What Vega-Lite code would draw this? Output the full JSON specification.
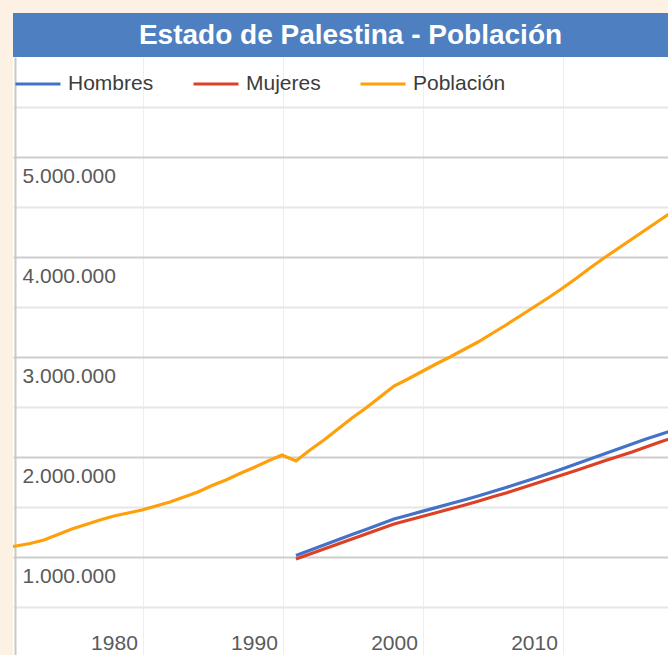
{
  "$schema": "https://vega.github.io/schema/vega-lite/v6.json",
  "background": "#fdf1e3",
  "padding": {"left": 13, "top": 13, "right": 0, "bottom": 0},
  "bounds": "flush",
  "spacing": 0,
  "config": {
    "locale": {"number": {"decimal": ",", "thousands": ".", "grouping": [3], "currency": ["", " €"]}},
    "font": "Liberation Sans"
  },
  "vconcat": [
    {
      "width": 655,
      "height": 44,
      "view": {"fill": "#4e7fc0", "stroke": null},
      "data": {"values": [{"titulo": "Estado de Palestina - Población"}]},
      "mark": {"type": "text", "font": "Liberation Sans", "fontWeight": "bold", "fontSize": 28, "color": "#ffffff", "dx": 10, "dy": 1},
      "encoding": {"text": {"field": "titulo", "type": "nominal"}}
    },
    {
      "width": 655,
      "height": 598,
      "view": {"fill": "#ffffff", "stroke": null},
      "data": {"values": [
        {"year": 1972, "serie": "Población", "valor": 1095000},
        {"year": 1973, "serie": "Población", "valor": 1110000},
        {"year": 1974, "serie": "Población", "valor": 1135000},
        {"year": 1975, "serie": "Población", "valor": 1170000},
        {"year": 1976, "serie": "Población", "valor": 1225000},
        {"year": 1977, "serie": "Población", "valor": 1280000},
        {"year": 1978, "serie": "Población", "valor": 1325000},
        {"year": 1979, "serie": "Población", "valor": 1370000},
        {"year": 1980, "serie": "Población", "valor": 1410000},
        {"year": 1981, "serie": "Población", "valor": 1440000},
        {"year": 1982, "serie": "Población", "valor": 1470000},
        {"year": 1983, "serie": "Población", "valor": 1510000},
        {"year": 1984, "serie": "Población", "valor": 1550000},
        {"year": 1985, "serie": "Población", "valor": 1600000},
        {"year": 1986, "serie": "Población", "valor": 1650000},
        {"year": 1987, "serie": "Población", "valor": 1715000},
        {"year": 1988, "serie": "Población", "valor": 1770000},
        {"year": 1989, "serie": "Población", "valor": 1835000},
        {"year": 1990, "serie": "Población", "valor": 1895000},
        {"year": 1991, "serie": "Población", "valor": 1960000},
        {"year": 1992, "serie": "Población", "valor": 2020000},
        {"year": 1993, "serie": "Población", "valor": 1960000},
        {"year": 1994, "serie": "Población", "valor": 2070000},
        {"year": 1995, "serie": "Población", "valor": 2170000},
        {"year": 1996, "serie": "Población", "valor": 2280000},
        {"year": 1997, "serie": "Población", "valor": 2390000},
        {"year": 1998, "serie": "Población", "valor": 2490000},
        {"year": 1999, "serie": "Población", "valor": 2600000},
        {"year": 2000, "serie": "Población", "valor": 2710000},
        {"year": 2001, "serie": "Población", "valor": 2780000},
        {"year": 2002, "serie": "Población", "valor": 2855000},
        {"year": 2003, "serie": "Población", "valor": 2930000},
        {"year": 2004, "serie": "Población", "valor": 3000000},
        {"year": 2005, "serie": "Población", "valor": 3075000},
        {"year": 2006, "serie": "Población", "valor": 3150000},
        {"year": 2007, "serie": "Población", "valor": 3235000},
        {"year": 2008, "serie": "Población", "valor": 3320000},
        {"year": 2009, "serie": "Población", "valor": 3410000},
        {"year": 2010, "serie": "Población", "valor": 3500000},
        {"year": 2011, "serie": "Población", "valor": 3590000},
        {"year": 2012, "serie": "Población", "valor": 3685000},
        {"year": 2013, "serie": "Población", "valor": 3785000},
        {"year": 2014, "serie": "Población", "valor": 3890000},
        {"year": 2015, "serie": "Población", "valor": 3990000},
        {"year": 2016, "serie": "Población", "valor": 4085000},
        {"year": 2017, "serie": "Población", "valor": 4180000},
        {"year": 2018, "serie": "Población", "valor": 4275000},
        {"year": 2019, "serie": "Población", "valor": 4370000},
        {"year": 2020, "serie": "Población", "valor": 4465000},
        {"year": 1993, "serie": "Hombres", "valor": 1015000},
        {"year": 1994, "serie": "Hombres", "valor": 1067000},
        {"year": 1995, "serie": "Hombres", "valor": 1120000},
        {"year": 1996, "serie": "Hombres", "valor": 1172000},
        {"year": 1997, "serie": "Hombres", "valor": 1224000},
        {"year": 1998, "serie": "Hombres", "valor": 1276000},
        {"year": 1999, "serie": "Hombres", "valor": 1328000},
        {"year": 2000, "serie": "Hombres", "valor": 1380000},
        {"year": 2001, "serie": "Hombres", "valor": 1418000},
        {"year": 2002, "serie": "Hombres", "valor": 1456000},
        {"year": 2003, "serie": "Hombres", "valor": 1494000},
        {"year": 2004, "serie": "Hombres", "valor": 1532000},
        {"year": 2005, "serie": "Hombres", "valor": 1570000},
        {"year": 2006, "serie": "Hombres", "valor": 1610000},
        {"year": 2007, "serie": "Hombres", "valor": 1652000},
        {"year": 2008, "serie": "Hombres", "valor": 1695000},
        {"year": 2009, "serie": "Hombres", "valor": 1740000},
        {"year": 2010, "serie": "Hombres", "valor": 1785000},
        {"year": 2011, "serie": "Hombres", "valor": 1832000},
        {"year": 2012, "serie": "Hombres", "valor": 1880000},
        {"year": 2013, "serie": "Hombres", "valor": 1930000},
        {"year": 2014, "serie": "Hombres", "valor": 1980000},
        {"year": 2015, "serie": "Hombres", "valor": 2030000},
        {"year": 2016, "serie": "Hombres", "valor": 2080000},
        {"year": 2017, "serie": "Hombres", "valor": 2130000},
        {"year": 2018, "serie": "Hombres", "valor": 2180000},
        {"year": 2019, "serie": "Hombres", "valor": 2225000},
        {"year": 2020, "serie": "Hombres", "valor": 2270000},
        {"year": 1993, "serie": "Mujeres", "valor": 980000},
        {"year": 1994, "serie": "Mujeres", "valor": 1030000},
        {"year": 1995, "serie": "Mujeres", "valor": 1080000},
        {"year": 1996, "serie": "Mujeres", "valor": 1130000},
        {"year": 1997, "serie": "Mujeres", "valor": 1180000},
        {"year": 1998, "serie": "Mujeres", "valor": 1230000},
        {"year": 1999, "serie": "Mujeres", "valor": 1280000},
        {"year": 2000, "serie": "Mujeres", "valor": 1330000},
        {"year": 2001, "serie": "Mujeres", "valor": 1368000},
        {"year": 2002, "serie": "Mujeres", "valor": 1405000},
        {"year": 2003, "serie": "Mujeres", "valor": 1443000},
        {"year": 2004, "serie": "Mujeres", "valor": 1480000},
        {"year": 2005, "serie": "Mujeres", "valor": 1518000},
        {"year": 2006, "serie": "Mujeres", "valor": 1558000},
        {"year": 2007, "serie": "Mujeres", "valor": 1600000},
        {"year": 2008, "serie": "Mujeres", "valor": 1640000},
        {"year": 2009, "serie": "Mujeres", "valor": 1685000},
        {"year": 2010, "serie": "Mujeres", "valor": 1730000},
        {"year": 2011, "serie": "Mujeres", "valor": 1775000},
        {"year": 2012, "serie": "Mujeres", "valor": 1820000},
        {"year": 2013, "serie": "Mujeres", "valor": 1865000},
        {"year": 2014, "serie": "Mujeres", "valor": 1912000},
        {"year": 2015, "serie": "Mujeres", "valor": 1960000},
        {"year": 2016, "serie": "Mujeres", "valor": 2005000},
        {"year": 2017, "serie": "Mujeres", "valor": 2050000},
        {"year": 2018, "serie": "Mujeres", "valor": 2100000},
        {"year": 2019, "serie": "Mujeres", "valor": 2150000},
        {"year": 2020, "serie": "Mujeres", "valor": 2195000}
      ]},
      "mark": {"type": "line", "strokeWidth": 3.2, "clip": true, "interpolate": "linear"},
      "encoding": {
        "x": {
          "field": "year", "type": "quantitative",
          "scale": {"domain": [1972.79, 2019.57], "nice": false, "zero": false},
          "axis": {
            "title": null,
            "values": [1980, 1990, 2000, 2010],
            "format": "d",
            "domain": false,
            "ticks": false,
            "tickSize": 0,
            "tickOffset": 29,
            "labelOffset": -29,
            "grid": true,
            "gridColor": "#eeeeee",
            "gridWidth": 1,
            "labelFont": "Liberation Sans",
            "labelFontSize": 21,
            "labelColor": "#5a5a5a",
            "labelBaseline": "alphabetic",
            "labelPadding": -6,
            "labelFlush": false,
            "labelOverlap": false
          }
        },
        "y": {
          "field": "valor", "type": "quantitative",
          "scale": {"domain": [20000, 6000000], "nice": false, "zero": false},
          "axis": {
            "title": null,
            "values": [500000, 1000000, 1500000, 2000000, 2500000, 3000000, 3500000, 4000000, 4500000, 5000000, 5500000],
            "format": ",d",
            "labelExpr": "datum.value % 1000000 === 0 ? datum.label : ''",
            "offset": -2,
            "domain": true,
            "domainColor": "#c8c8c8",
            "domainWidth": 2,
            "ticks": false,
            "tickSize": 0,
            "grid": true,
            "gridColor": {"condition": {"test": "datum.value % 1000000 === 0", "value": "#cdcdcd"}, "value": "#e6e6e6"},
            "gridWidth": 2,
            "labelFont": "Liberation Sans",
            "labelFontSize": 21,
            "labelColor": "#5a5a5a",
            "labelAlign": "left",
            "labelBaseline": "alphabetic",
            "labelPadding": -7,
            "labelOffset": 25,
            "labelFlush": false,
            "labelOverlap": false
          }
        },
        "color": {
          "field": "serie", "type": "nominal",
          "scale": {"domain": ["Hombres", "Mujeres", "Población"], "range": ["#4472c8", "#dc4125", "#ffa00a"]},
          "legend": {
            "title": null,
            "orient": "none",
            "direction": "horizontal",
            "legendX": 1,
            "legendY": 47,
            "padding": 0,
            "symbolType": "stroke",
            "symbolSize": 2025,
            "symbolStrokeWidth": 3,
            "labelFont": "Liberation Sans",
            "labelFontSize": 21,
            "labelColor": "#3c3c3c",
            "labelOffset": 6,
            "columnPadding": 33
          }
        }
      }
    }
  ]
}
